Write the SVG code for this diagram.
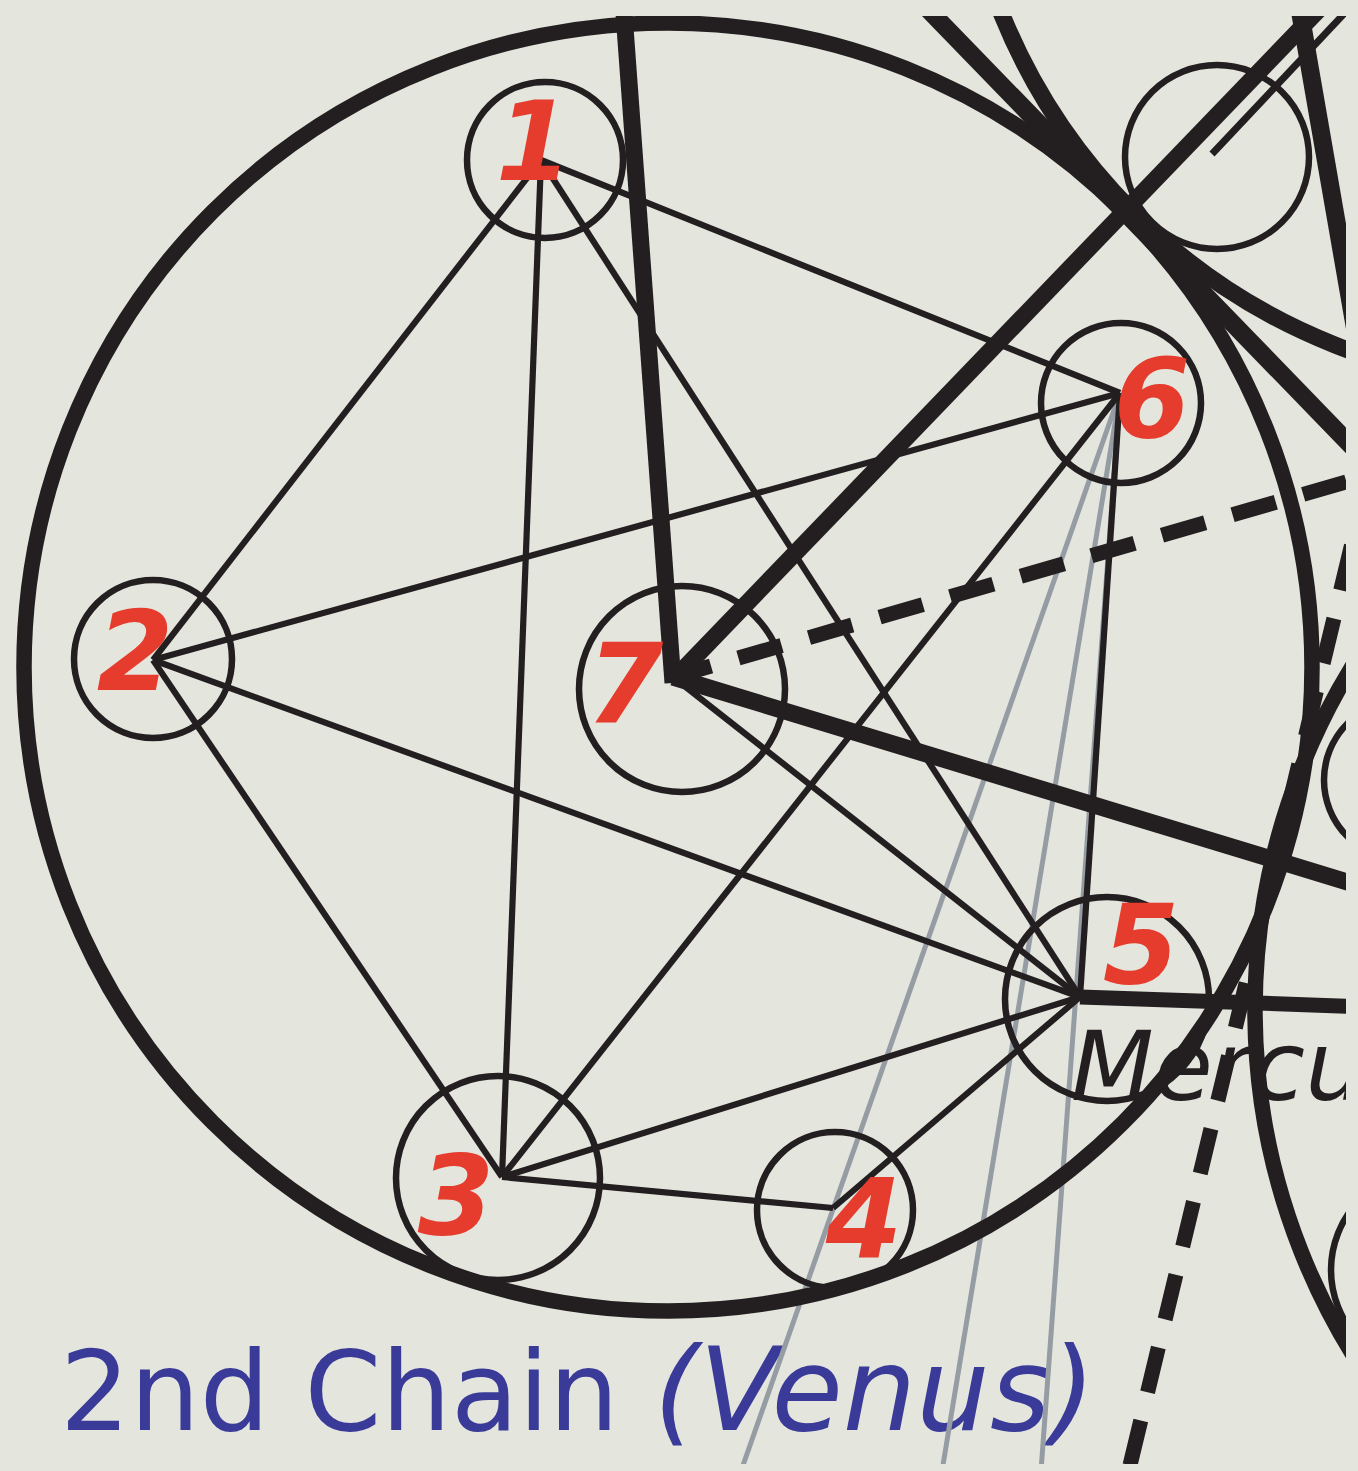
<svg xmlns="http://www.w3.org/2000/svg" width="1358" height="1471" viewBox="0 0 1358 1471">
<defs>
<clipPath id="frame"><rect x="0" y="16" width="1346" height="1448"/></clipPath>
</defs>
<style>
.bg{fill:#e4e6de}
.globe{fill:none;stroke:#231f20;stroke-width:6.5}
.edge{stroke:#231f20;stroke-width:6.2;fill:none}
.thick{stroke:#231f20;stroke-width:17;fill:none}
.ring{fill:none;stroke:#231f20;stroke-width:15.5}
.ray{stroke:#959ca3;stroke-width:5;fill:none}
.dash{stroke:#231f20;stroke-width:15;fill:none}
.num{font-family:"DejaVu Sans",Verdana,sans-serif;font-weight:bold;font-style:italic;font-size:110px;fill:#e63c2e;text-anchor:middle}
.title{font-family:"DejaVu Sans",Verdana,sans-serif;font-size:110px;fill:#3a3a98}
.merc{font-family:"DejaVu Sans",Verdana,sans-serif;font-style:italic;font-size:96px;fill:#231f20}
</style>
<rect class="bg" x="0" y="0" width="1358" height="1471"/>
<g clip-path="url(#frame)">
  <text id="venus-label" class="title" x="60" y="1430">2nd Chain <tspan font-style="italic" font-size="116">(Venus)</tspan></text>
  <g id="rays">
    <line class="ray" x1="1120" y1="393" x2="741" y2="1471"/>
    <line class="ray" x1="1120" y1="393" x2="942" y2="1471"/>
    <line class="ray" x1="1120" y1="393" x2="1041" y2="1471"/>
  </g>
  <g id="venus-chain-ring"><circle class="ring" cx="668" cy="667" r="644"/></g>
  <g id="chain-1">
    <circle class="ring" style="stroke-width:17" cx="1555" cy="-210" r="597"/>
    <circle class="globe" cx="1217" cy="157" r="92"/>
    <line class="thick" style="stroke-width:18" x1="919" y1="0" x2="1400" y2="496"/>
    <line class="thick" style="stroke-width:18" x1="1298" y1="0" x2="1405" y2="616"/>
    <line class="edge" style="stroke-width:7" x1="1357" y1="0" x2="1212" y2="154"/>
  </g>
  <g id="mercury-chain">
    <circle class="ring" cx="1910" cy="1010" r="655"/>
    <circle class="globe" cx="1404" cy="780" r="80"/>
    <circle class="globe" cx="1431" cy="1270" r="100"/>
    <text class="merc" x="1071" y="1100">Mercu</text>
  </g>
  <g id="connectors">
    <line class="edge" x1="541" y1="160" x2="153" y2="660"/>
    <line class="edge" x1="541" y1="160" x2="502" y2="1177"/>
    <line class="edge" x1="541" y1="160" x2="1120" y2="393"/>
    <line class="edge" x1="541" y1="160" x2="1080" y2="997"/>
    <line class="edge" x1="153" y1="660" x2="1120" y2="393"/>
    <line class="edge" x1="153" y1="660" x2="502" y2="1177"/>
    <line class="edge" x1="153" y1="660" x2="1080" y2="997"/>
    <line class="edge" x1="502" y1="1177" x2="1120" y2="393"/>
    <line class="edge" x1="502" y1="1177" x2="1080" y2="997"/>
    <line class="edge" x1="502" y1="1177" x2="833" y2="1208"/>
    <line class="edge" x1="833" y1="1208" x2="1080" y2="997"/>
    <line class="edge" x1="1120" y1="393" x2="1080" y2="997"/>
    <line class="edge" x1="673" y1="677" x2="1080" y2="997"/>
    <line class="thick" x1="673" y1="683" x2="623" y2="0"/>
    <line class="thick" x1="673" y1="680" x2="1330" y2="-2"/>
    <line class="thick" x1="673" y1="677" x2="1400" y2="898"/>
    <line class="thick" style="stroke-width:15" x1="1080" y1="997" x2="1400" y2="1008"/>
    <line class="dash" style="stroke-dasharray:45 28.5;stroke-dashoffset:5.4" x1="673" y1="677" x2="1420" y2="460.5"/>
    <line class="dash" style="stroke-dasharray:46 29;stroke-dashoffset:38.5" x1="1360" y1="510" x2="1112" y2="1540"/>
  </g>
  <g id="node-1"><circle class="globe" cx="545" cy="160" r="78"/><text class="num" x="534" y="180">1</text></g>
  <g id="node-2"><circle class="globe" cx="153" cy="659" r="79"/><text class="num" x="135" y="690">2</text></g>
  <g id="node-3"><circle class="globe" cx="498" cy="1178" r="102"/><text class="num" x="456" y="1234">3</text></g>
  <g id="node-4"><circle class="globe" cx="835" cy="1210" r="78"/><text class="num" x="864" y="1258">4</text></g>
  <g id="node-5"><circle class="globe" cx="1107" cy="999" r="102"/><text class="num" x="1141" y="983">5</text></g>
  <g id="node-6"><circle class="globe" cx="1121" cy="403" r="80"/><text class="num" x="1152" y="437">6</text></g>
  <g id="node-7"><circle class="globe" cx="682" cy="689" r="103"/><text class="num" x="625" y="722">7</text></g>
</g>
</svg>
